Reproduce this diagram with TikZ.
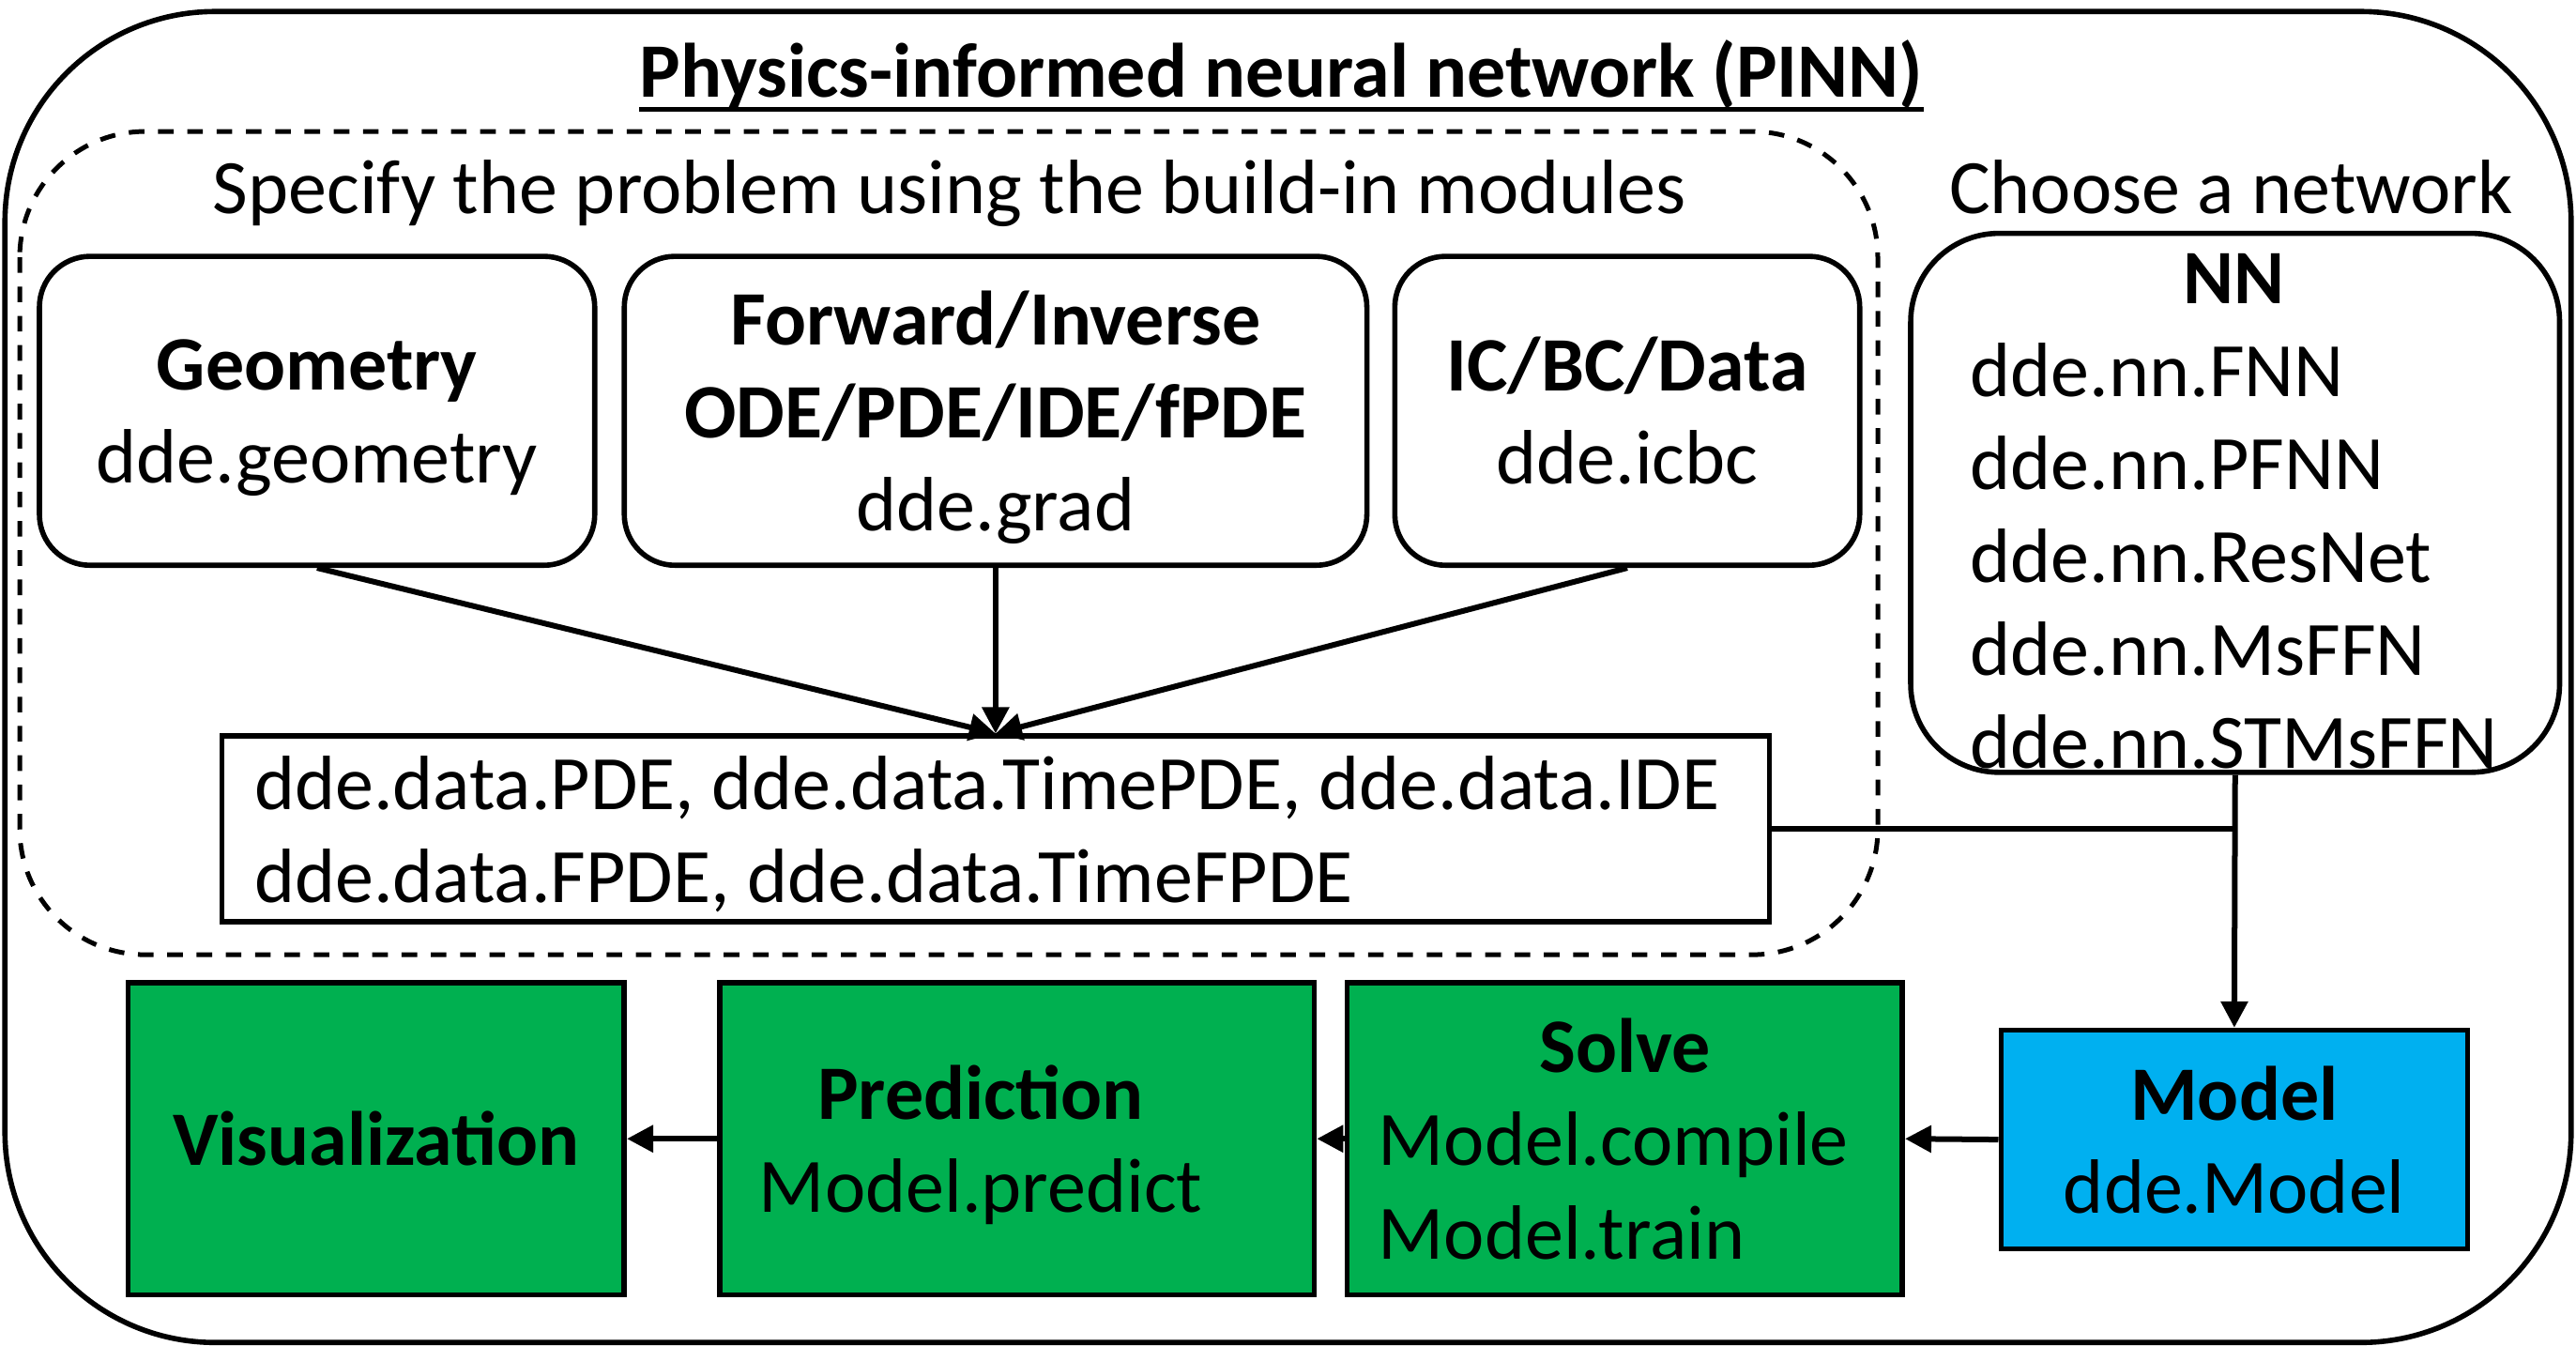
\documentclass[tikz,border=0pt]{standalone}
\usepackage{fontspec}
\setmainfont{Carlito}
\usepackage{calc}
\usetikzlibrary{arrows.meta}
\definecolor{boxgreen}{RGB}{0,176,80}
\definecolor{boxcyan}{RGB}{0,176,240}
\newcommand\nodepth[1]{\raisebox{0pt}[\height][0pt]{#1}}
\begin{document}
\begin{tikzpicture}[x=0.875pt,y=-0.875pt,
  every node/.style={font=\fontsize{41}{49.5}\selectfont},
  rbox/.style={draw, line width=2.8pt, rounded corners=27pt, align=center, inner sep=0pt},
  pbox/.style={draw, line width=2.8pt, align=center, inner sep=0pt},
  arr/.style={line width=3pt, -{Triangle[length=14pt,width=14pt]}},
  link/.style={line width=3pt},
]
\useasboundingbox (0,0) rectangle (1568,819);
% containers
\draw[line width=2.8pt, rounded corners=112pt] (3,7) rectangle (1565,817);
\draw[line width=2.5pt, dash pattern=on 8.3pt off 7.3pt, rounded corners=67pt] (12,80) rectangle (1143,581);
% title
\node[font=\fontsize{41}{49.5}\selectfont\bfseries, anchor=base, inner sep=0pt] (title) at (780,59) {Physics-informed neural network (PINN)};
\draw[line width=2.4pt] ([yshift=-6.5pt]title.base west) -- ([yshift=-6.5pt]title.base east);
\node[anchor=base, inner sep=0pt] (spec) at (578,130) {Specify the problem using the build-in modules};
\node[anchor=base, inner sep=0pt] (choose) at (1358,130) {Choose a network};
% module boxes
\node[rbox, minimum width=295.75pt, minimum height=164.5pt] (geo) at (193,250) {\textbf{Geometry}\\\nodepth{dde.geometry}};
\node[rbox, minimum width=395.5pt, minimum height=164.5pt] (fwd) at (606,250) {\textbf{Forward/Inverse}\\\textbf{ODE/PDE/IDE/fPDE}\\\nodepth{dde.grad}};
\node[rbox, minimum width=247.6pt, minimum height=164.5pt] (icbc) at (990.5,250) {\textbf{IC/BC/Data}\\\nodepth{dde.icbc}};
\node[pbox, minimum width=824.25pt, minimum height=98.9pt, align=left] (data) at (606,504.5) {\makebox[\widthof{dde.data.PDE, dde.data.TimePDE, dde.data.IDE}+9pt][l]{dde.data.PDE, dde.data.TimePDE, dde.data.IDE}\\\nodepth{dde.data.FPDE, dde.data.TimeFPDE}};
% network box
\node[rbox, rounded corners=47pt, minimum width=345.6pt, minimum height=287pt] (nn) at (1360.5,306) {};
\node[align=center, inner sep=0pt] (nntext) at (1360,311) {\textbf{NN}\\
\makebox[\widthof{dde.nn.STMsFFN}][l]{dde.nn.FNN}\\
\makebox[\widthof{dde.nn.STMsFFN}][l]{dde.nn.PFNN}\\
\makebox[\widthof{dde.nn.STMsFFN}][l]{dde.nn.ResNet}\\
\makebox[\widthof{dde.nn.STMsFFN}][l]{dde.nn.MsFFN}\\
dde.nn.STMsFFN};
% bottom row
\node[pbox, fill=boxcyan, minimum width=248.5pt, minimum height=116.4pt] (model) at (1360,693.5) {\textbf{Model}\\\nodepth{dde.Model}};
\node[pbox, fill=boxgreen, minimum width=295.75pt, minimum height=166.25pt] (solve) at (989,693) {\textbf{Solve}\\\makebox[\widthof{Model.compile}+12pt][l]{Model.compile}\\\makebox[\widthof{Model.compile}+12pt][l]{\nodepth{Model.train}}};
\node[pbox, fill=boxgreen, minimum width=316.75pt, minimum height=166.25pt] (pred) at (619,693) {};
\node[align=center, inner sep=0pt] (predtext) at (597,693) {\textbf{Prediction}\\\nodepth{Model.predict}};
\node[pbox, fill=boxgreen, minimum width=264.25pt, minimum height=166.25pt] (vis) at (229,693) {\textbf{Visualization}};
% connectors
\draw[arr] (geo.south) -- (data.north);
\draw[arr] (fwd.south) -- (data.north);
\draw[arr] (icbc.south) -- (data.north);
\draw[link] (data.east) -- (data.east -| nn.south);
\draw[arr] (nn.south) -- (model.north);
\draw[arr] (model.west) -- (solve.east);
\draw[arr] (solve.west) -- (pred.east);
\draw[arr] (pred.west) -- (vis.east);
\end{tikzpicture}
\end{document}
